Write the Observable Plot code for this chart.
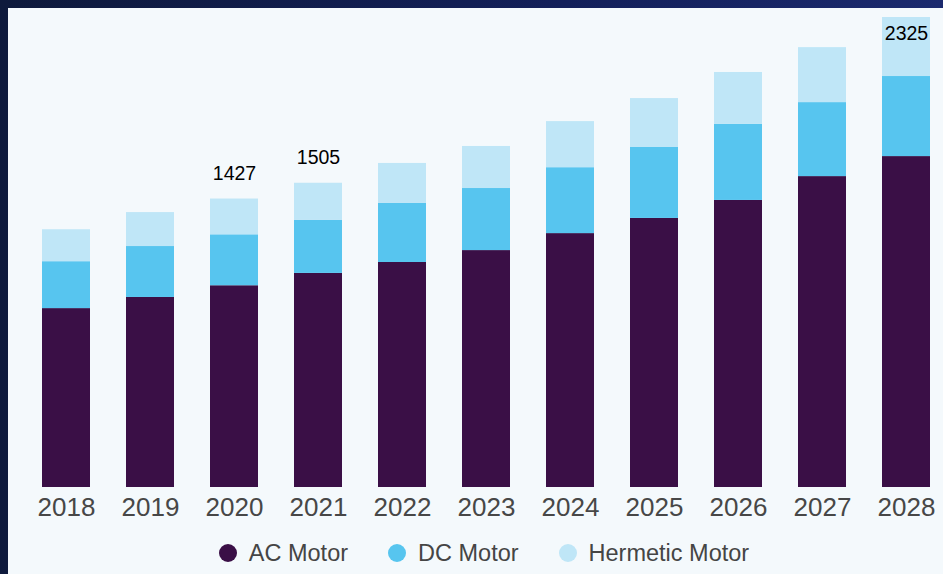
<!DOCTYPE html>
<html>
<head>
<meta charset="utf-8">
<script src="https://cdn.jsdelivr.net/npm/d3@7"></script>
<script src="https://cdn.jsdelivr.net/npm/@observablehq/plot@0.6"></script>
<style>
  html, body { margin: 0; padding: 0; }
  body {
    width: 943px; height: 574px; overflow: hidden;
    background: linear-gradient(90deg, #0e1a3c 0%, #13205a 60%, #1b2a6e 100%);
    font-family: "Liberation Sans", Arial, sans-serif;
  }
  #panel {
    position: absolute; left: 8px; top: 8px; width: 935px; height: 566px;
    background: #f4f9fc;
  }
  #legend {
    display: flex; justify-content: center; align-items: center;
    padding-left: 17px; margin-top: 6px; height: 30px;
    font-size: 23.5px; color: #454545;
  }
  .item { display: flex; align-items: center; margin: 0 20px; }
  .dot { width: 18px; height: 18px; border-radius: 50%; margin-right: 12px; }
</style>
</head>
<body>
<div id="panel"><div id="chart"></div><div id="legend"></div></div>
<script>
const years = ["2018","2019","2020","2021","2022","2023","2024","2025","2026","2027","2028"];
const series = ["AC Motor", "DC Motor", "Hermetic Motor"];
const colors = ["#3a0f46", "#57c5ef", "#bfe6f7"];
const acMotor       = [885, 940, 998, 1059, 1113, 1172, 1256, 1331, 1420, 1538, 1637];
const dcMotor       = [232, 252, 252, 262, 292, 307, 326, 351, 376, 366, 396];
const hermeticMotor = [158, 168, 177, 184, 198, 208, 228, 242, 257, 272, 292];
const labelYears  = ["2020", "2021", "2028"];
const labelValues = [1427, 1505, 2325];

const valuesBySeries = [acMotor, dcMotor, hermeticMotor];
const data = [];
series.forEach((s, si) => years.forEach((y, i) => data.push({year: y, series: s, value: valuesBySeries[si][i]})));
const labels = labelYears.map((y, i) => ({year: y, total: labelValues[i]}));

const chart = Plot.plot({
  width: 935,
  height: 524,
  marginLeft: 25.6,
  marginRight: 4.2,
  marginTop: 9,
  marginBottom: 45,
  style: {background: "transparent", fontFamily: "'Liberation Sans', Arial, sans-serif"},
  x: {domain: years, paddingInner: 0.43, paddingOuter: 0.1, label: null, tickSize: 0, tickPadding: 10},
  y: {domain: [0, 2325], axis: null},
  color: {domain: series, range: colors},
  marks: [
    Plot.barY(data, {x: "year", y: "value", fill: "series", z: "series"}),
    Plot.axisX({tickSize: 0, tickPadding: 10, fontSize: 26, fill: "#474747", label: null}),
    Plot.text(labels.filter(d => d.year !== "2028"), {x: "year", y: "total", text: d => String(d.total), lineAnchor: "bottom", dy: -19, fontSize: 19.5, fill: "#000"}),
    Plot.text(labels.filter(d => d.year === "2028"), {x: "year", y: "total", text: d => String(d.total), lineAnchor: "bottom", dy: 22, fontSize: 19.5, fill: "#000"})
  ]
});
document.getElementById("chart").appendChild(chart);

const legend = document.getElementById("legend");
series.forEach((s, i) => {
  const item = document.createElement("div");
  item.className = "item";
  const dot = document.createElement("span");
  dot.className = "dot";
  dot.style.background = colors[i];
  const txt = document.createElement("span");
  txt.textContent = s;
  item.appendChild(dot); item.appendChild(txt);
  legend.appendChild(item);
});
</script>
</body>
</html>
